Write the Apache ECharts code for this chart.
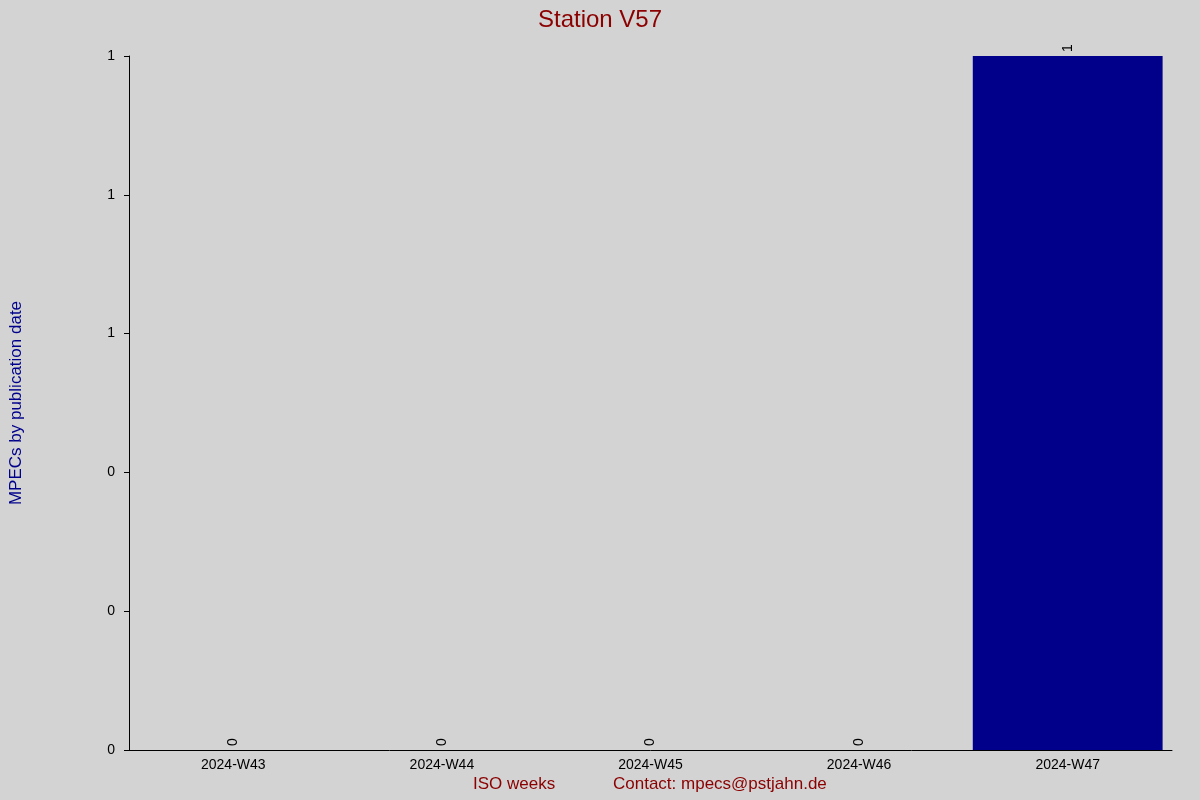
<!DOCTYPE html>
<html><head><meta charset="utf-8">
<script src="https://cdn.jsdelivr.net/npm/echarts@6/dist/echarts.min.js"></script>
<style>html,body{margin:0;padding:0;background:#d3d3d3}#c{width:1200px;height:800px}</style>
</head><body><div id="c"></div>
<script>
const categories = ["2024-W43","2024-W44","2024-W45","2024-W46","2024-W47"];
const values = [0,0,0,0,1];
const chart = echarts.init(document.getElementById('c'));
chart.setOption({
  backgroundColor:'#d3d3d3',
  animation:false,
  title:{text:'Station V57',left:'center',top:3,textStyle:{color:'#8b0000',fontSize:24,fontWeight:'normal',fontFamily:'Liberation Sans, Arial'}},
  grid:{left:126,right:28,top:56,bottom:50},
  xAxis:{type:'category',data:categories,
    axisLine:{lineStyle:{color:'#000'}},axisTick:{show:false},
    axisLabel:{color:'#000',fontSize:14,margin:8,fontFamily:'Liberation Sans, Arial'}},
  yAxis:{type:'value',min:0,max:1,interval:0.2,
    name:'MPECs by publication date',nameLocation:'middle',nameGap:104,
    nameTextStyle:{color:'#00008b',fontSize:17,fontFamily:'Liberation Sans, Arial'},
    axisLine:{show:true,lineStyle:{color:'#000'}},axisTick:{show:true,length:5,lineStyle:{color:'#000'}},
    splitLine:{show:false},
    axisLabel:{color:'#000',fontSize:14,margin:14,fontFamily:'Liberation Sans, Arial',formatter:v=>Math.round(v)}},
  series:[{type:'bar',data:values,barWidth:'91%',itemStyle:{color:'#00008b'},
    label:{show:true,position:'top',rotate:90,color:'#000',fontSize:14,distance:4,align:'left',verticalAlign:'middle',fontFamily:'Liberation Sans, Arial'}}],
  graphic:[
    {type:'text',left:473,top:776,style:{text:'ISO weeks',fill:'#8b0000',font:'17px Liberation Sans, Arial'}},
    {type:'text',left:613,top:776,style:{text:'Contact: mpecs@pstjahn.de',fill:'#8b0000',font:'17px Liberation Sans, Arial'}}
  ]
});
</script></body></html>
